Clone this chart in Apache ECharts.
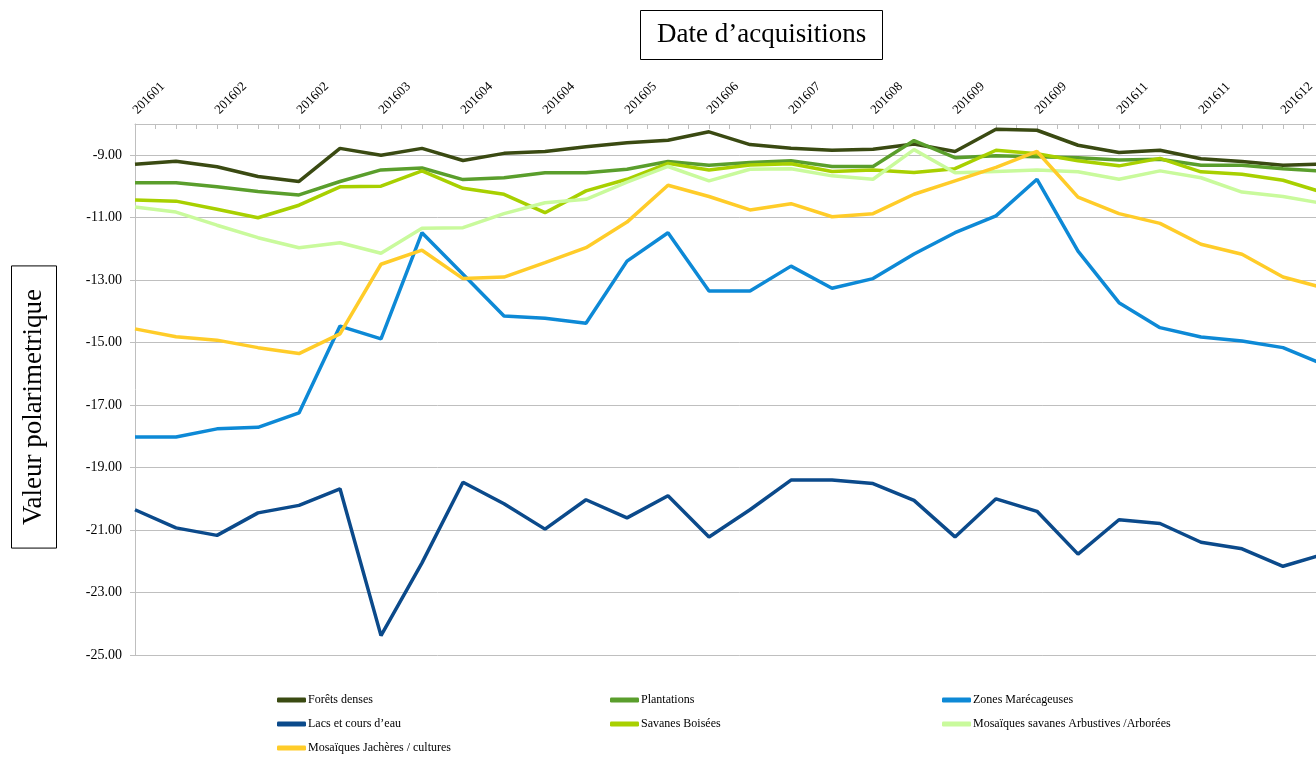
<!DOCTYPE html>
<html>
<head>
<meta charset="utf-8">
<script src="https://cdn.jsdelivr.net/npm/echarts@6/dist/echarts.min.js"></script>
<style>
  html, body { margin: 0; padding: 0; background: #fff; overflow: hidden; }
  #chart { width: 1400px; height: 820px; }
</style>
</head>
<body>
<div id="chart"></div>
<script>
// Acquisition dates shown on the top axis (one label every second acquisition)
const tickLabels = ['201601', '201602', '201602', '201603', '201604', '201604', '201605',
  '201606', '201607', '201608', '201609', '201609', '201611', '201611', '201612'];

// Polarimetric values per land-cover class, one value per acquisition
const foretsDenses = [-9.29, -9.19, -9.37, -9.68, -9.84, -8.78, -9.00, -8.78, -9.17, -8.94,
  -8.88, -8.73, -8.60, -8.52, -8.25, -8.66, -8.78, -8.84, -8.81, -8.64,
  -8.88, -8.17, -8.20, -8.68, -8.91, -8.84, -9.11, -9.20, -9.32, -9.28];
const plantations = [-9.88, -9.88, -10.01, -10.16, -10.27, -9.84, -9.47, -9.41, -9.78, -9.72,
  -9.56, -9.56, -9.45, -9.20, -9.32, -9.23, -9.18, -9.36, -9.36, -8.53,
  -9.08, -9.02, -9.05, -9.08, -9.15, -9.13, -9.32, -9.32, -9.43, -9.51];
const zonesMarecageuses = [-18.02, -18.02, -17.76, -17.71, -17.25, -14.47, -14.88, -11.48, -12.81, -14.15,
  -14.22, -14.38, -12.39, -11.48, -13.35, -13.35, -12.55, -13.26, -12.95, -12.16,
  -11.48, -10.94, -9.77, -12.07, -13.72, -14.52, -14.82, -14.95, -15.16, -15.70];
const lacsCoursEau = [-20.35, -20.93, -21.17, -20.45, -20.21, -19.68, -24.38, -22.05, -19.47, -20.16,
  -20.97, -20.03, -20.61, -19.90, -21.22, -20.35, -19.40, -19.40, -19.51, -20.05,
  -21.22, -20.00, -20.40, -21.77, -20.67, -20.79, -21.39, -21.60, -22.16, -21.77];
const savanesBoisees = [-10.43, -10.47, -10.73, -11.00, -10.60, -10.01, -9.99, -9.50, -10.06, -10.25,
  -10.84, -10.14, -9.77, -9.26, -9.47, -9.31, -9.27, -9.52, -9.47, -9.55,
  -9.43, -8.84, -8.95, -9.18, -9.34, -9.10, -9.53, -9.61, -9.80, -10.20];
const mosaiquesSavanes = [-10.66, -10.82, -11.24, -11.64, -11.96, -11.80, -12.14, -11.34, -11.32, -10.87,
  -10.52, -10.41, -9.86, -9.36, -9.82, -9.45, -9.43, -9.66, -9.77, -8.82,
  -9.56, -9.52, -9.47, -9.53, -9.77, -9.50, -9.72, -10.18, -10.32, -10.55];
const mosaiquesJacheres = [-14.56, -14.81, -14.92, -15.16, -15.35, -14.72, -12.49, -12.04, -12.95, -12.90,
  -12.44, -11.96, -11.14, -9.96, -10.32, -10.75, -10.55, -10.97, -10.87, -10.25,
  -9.82, -9.39, -8.88, -10.34, -10.87, -11.18, -11.85, -12.17, -12.90, -13.25];

const seriesDefs = [
  { name: 'Forêts denses', values: foretsDenses, color: '#3a4a12' },
  { name: 'Plantations', values: plantations, color: '#5a9e2c' },
  { name: 'Zones Marécageuses', values: zonesMarecageuses, color: '#0d89d6' },
  { name: 'Lacs et cours d\u2019eau', values: lacsCoursEau, color: '#0b4a8b' },
  { name: 'Savanes Boisées', values: savanesBoisees, color: '#a8d000' },
  { name: 'Mosaïques savanes Arbustives /Arborées', values: mosaiquesSavanes, color: '#c9fa9c' },
  { name: 'Mosaïques Jachères / cultures', values: mosaiquesJacheres, color: '#ffcc29' }
];

const SERIF = '"Liberation Serif", "DejaVu Serif", serif';
const GRID_GRAY = '#bfbfbf';
const STEP = 41; // pixels per acquisition

const legendCommon = {
  orient: 'vertical',
  icon: 'roundRect',
  itemWidth: 29,
  itemHeight: 5,
  itemGap: 12,
  height: 120,
  selectedMode: false,
  textStyle: { fontFamily: SERIF, fontSize: 12, color: '#000', padding: [0, 0, 0, -3] }
};

const chart = echarts.init(document.getElementById('chart'));
chart.setOption({
  animation: false,
  backgroundColor: '#fff',
  title: {
    text: 'Date d\u2019acquisitions',
    left: 640,
    top: 10,
    padding: [10, 17],
    borderColor: '#000',
    borderWidth: 1,
    textStyle: { fontFamily: SERIF, fontSize: 27, lineHeight: 30, fontWeight: 'normal', color: '#000' }
  },
  graphic: [{
    type: 'text',
    x: 34,
    y: 407,
    rotation: Math.PI / 2,
    style: {
      text: 'Valeur polarimetrique',
      font: '27px ' + SERIF,
      fill: '#000',
      align: 'center',
      verticalAlign: 'middle',
      borderColor: '#000',
      borderWidth: 1,
      padding: [9, 23]
    }
  }],
  legend: [
    Object.assign({ left: 272, top: 689, data: [seriesDefs[0].name, seriesDefs[3].name, seriesDefs[6].name] }, legendCommon),
    Object.assign({ left: 605, top: 689, data: [seriesDefs[1].name, seriesDefs[4].name] }, legendCommon),
    Object.assign({ left: 937, top: 689, data: [seriesDefs[2].name, seriesDefs[5].name] }, legendCommon)
  ],
  grid: { left: 135, top: 124, width: STEP * 29.5, height: 531 },
  xAxis: {
    type: 'value',
    position: 'top',
    min: 0,
    max: 29.5,
    interval: 0.5,
    axisLine: { show: true, lineStyle: { color: GRID_GRAY, width: 1 } },
    axisTick: { show: true, inside: true, length: 5, lineStyle: { color: GRID_GRAY } },
    splitLine: { show: false },
    axisLabel: {
      rotate: -45,
      margin: 12,
      fontFamily: SERIF,
      fontSize: 13,
      color: '#000',
      formatter: function (v) {
        const k = Math.round(v * 2);
        if (k % 4 !== 0) return '';
        const idx = k / 4;
        return tickLabels[idx] !== undefined ? tickLabels[idx] : '';
      }
    }
  },
  yAxis: {
    type: 'value',
    min: -25,
    max: -8,
    interval: 2,
    axisLine: { show: true, lineStyle: { color: GRID_GRAY, width: 1 } },
    axisTick: { show: true, length: 5, lineStyle: { color: GRID_GRAY } },
    splitLine: { show: true, lineStyle: { color: GRID_GRAY, width: 1 } },
    axisLabel: {
      showMaxLabel: false,
      margin: 13,
      fontFamily: SERIF,
      fontSize: 14,
      color: '#000',
      formatter: function (v) { return v.toFixed(2); }
    }
  },
  series: seriesDefs.map(function (s) {
    return {
      name: s.name,
      type: 'line',
      symbol: 'none',
      color: s.color,
      lineStyle: { color: s.color, width: 3.5 },
      data: s.values.map(function (v, i) { return [i, v]; })
    };
  })
});
</script>
</body>
</html>
